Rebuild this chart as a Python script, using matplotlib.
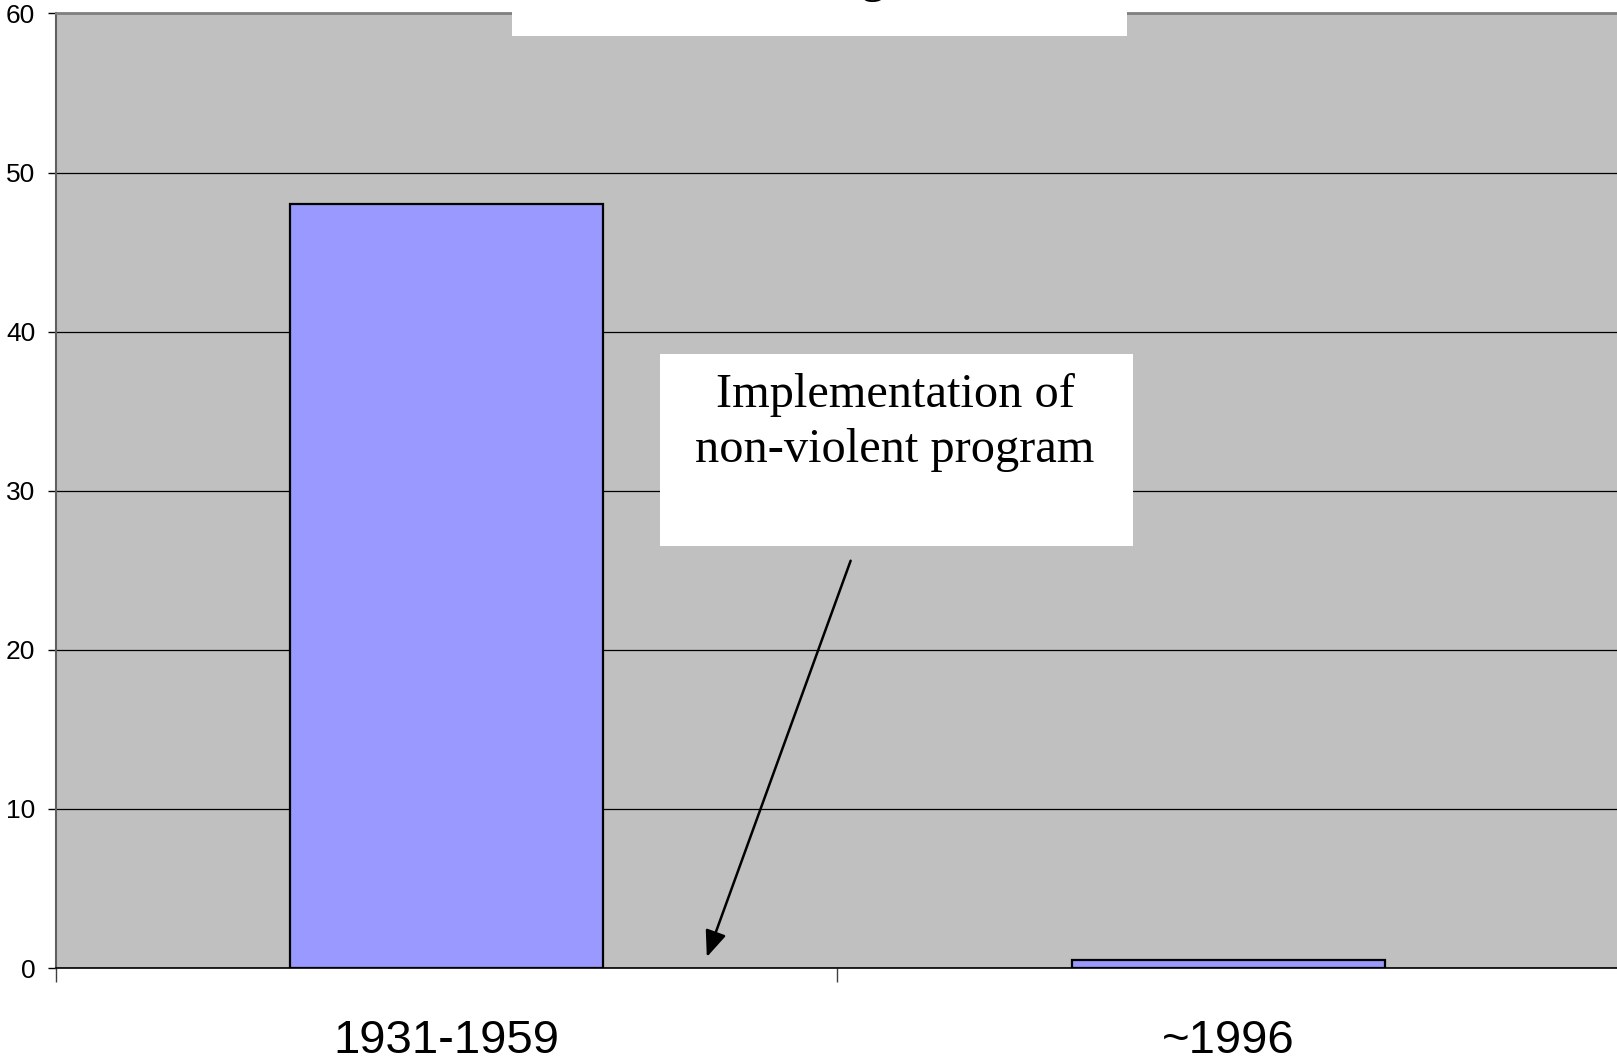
import matplotlib
matplotlib.use("Agg")
import matplotlib.pyplot as plt
from matplotlib.patches import Rectangle

# Data

periods = ["1931-1959", "~1996"]
values = [48, 0.5]
y_ticks = [0, 10, 20, 30, 40, 50, 60]

note_lines = ["Implementation of", "non-violent program"]

W, H = 1617, 1062
fig = plt.figure(figsize=(W / 100, H / 100), dpi=100)

# Axes placed to match the reference (pixels -> figure fraction)

left, right = 55.7, 1619.0
top, bottom = 13.4, 968.0
ax = fig.add_axes([left / W, 1 - bottom / H, (right - left) / W, (bottom - top) / H])

ax.set_facecolor("#C0C0C0")

x = list(range(len(periods)))
ax.bar(x, values, width=0.4, color="#9999FF", edgecolor="black", linewidth=1.6, zorder=3)

ax.set_xlim(-0.5, 1.5)
ax.set_ylim(0, 60)

# Gridlines

ax.set_yticks(y_ticks)
ax.yaxis.grid(True, color="black", linewidth=0.9)
ax.set_axisbelow(True)

# Spines

ax.spines["right"].set_visible(False)
ax.spines["top"].set_color("#808080")
ax.spines["top"].set_linewidth(2)
ax.spines["left"].set_color("#606060")
ax.spines["left"].set_linewidth(1.5)
ax.spines["bottom"].set_color("black")
ax.spines["bottom"].set_linewidth(1.2)

# Ticks

ax.tick_params(axis="y", direction="out", length=5.8, width=1, pad=9.0,
               labelsize=19, colors="black")
for lab in ax.get_yticklabels():
    lab.set_fontfamily("Liberation Sans")

ax.set_xticks([-0.5, 0.5, 1.5])
ax.set_xticklabels([])
ax.tick_params(axis="x", which="major", direction="out", length=10, width=1, colors="#404040")
ax.set_xticks(x, minor=True)
ax.set_xticklabels(periods, minor=True, fontsize=34, fontfamily="Liberation Sans")
ax.tick_params(axis="x", which="minor", length=0, pad=37)

# Cut-off title box at the top (only the tail of a "g" shows in the reference)

fig.add_artist(Rectangle((512 / W, 1 - 36 / H), (1127 - 512) / W, 36 / H,
                         transform=fig.transFigure, facecolor="white", edgecolor="none", zorder=2))
fig.text(873 / W, 1 + 8 / H, "g", fontsize=35, family="Liberation Serif",
         ha="center", va="baseline", zorder=3)

# Annotation box

fig.add_artist(Rectangle((660 / W, 1 - 546 / H), (1133 - 660) / W, (546 - 354) / H,
                         transform=fig.transFigure, facecolor="white", edgecolor="none", zorder=2))
for line, base in zip(note_lines, [407, 462]):
    fig.text(895 / W, 1 - base / H, line, fontsize=34.8, family="Liberation Serif",
             ha="center", va="baseline", zorder=3)

ax.annotate("", xy=(0.333, 0.69), xytext=(0.517, 25.6), xycoords="data",
            arrowprops=dict(arrowstyle="-|>,head_length=1.6,head_width=0.65",
                            color="black", linewidth=1.8, shrinkA=0, shrinkB=0),
            annotation_clip=False, zorder=5)

fig.savefig("out.png", dpi=100)
